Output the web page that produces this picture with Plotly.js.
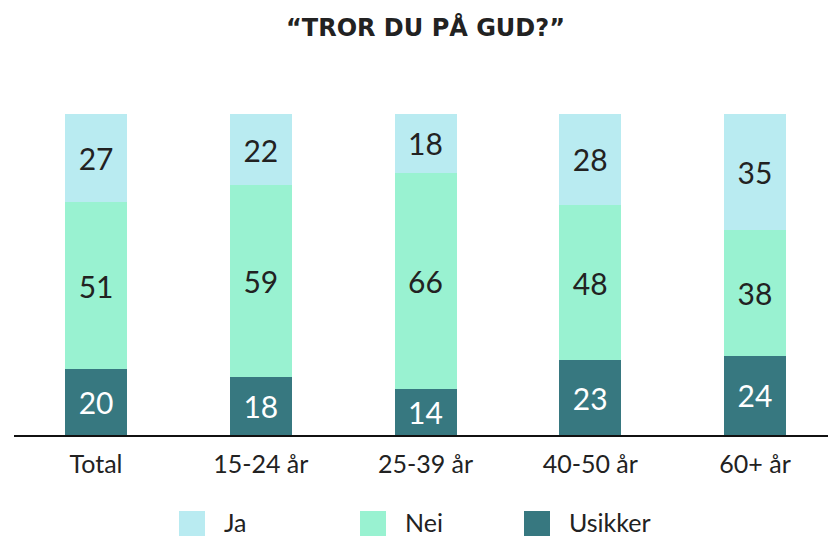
<!DOCTYPE html>
<html>
<head>
<meta charset="utf-8">
<script src="https://cdn.plot.ly/plotly-3.0.1.min.js"></script>
<style>html,body{margin:0;padding:0;background:#fff;}#chart{width:828px;height:536px;}</style>
</head>
<body>
<div id="chart"></div>
<script>
const categories = ["Total", "15-24 år", "25-39 år", "40-50 år", "60+ år"];
const usikker = [20, 18, 14, 23, 24];
const nei = [51, 59, 66, 48, 38];
const ja = [27, 22, 18, 28, 35];
const seriesNames = ["Usikker", "Nei", "Ja"];
const seriesColors = ["#377880", "#99f2d1", "#b9ebf1"];
const textColors = ["#ffffff", "#222222", "#222222"];
const seriesValues = [usikker, nei, ja];

const FONT = "Lato, 'Noto Sans', sans-serif";
const traces = seriesValues.map((vals, i) => ({
  type: "bar",
  name: seriesNames[i],
  x: categories,
  y: vals,
  text: vals.map(String),
  texttemplate: "%{text}",
  textposition: "inside",
  insidetextanchor: "middle",
  textangle: 0,
  textfont: {family: FONT, size: 30, color: textColors[i]},
  marker: {color: seriesColors[i], line: {width: 0}},
  hoverinfo: "skip",
  showlegend: false
}));

// legend drawn as swatches + labels (order Ja, Nei, Usikker)
const legendOrder = [2, 1, 0];
const legendX = [179, 360, 524];
const shapes = [];
const annotations = [];
legendOrder.forEach((si, k) => {
  shapes.push({type: "rect", xref: "paper", yref: "paper",
    x0: (legendX[k] - 14) / 814, x1: (legendX[k] + 26 - 14) / 814,
    y0: (435 - 537) / 321, y1: (435 - 511) / 321,
    fillcolor: seriesColors[si], line: {width: 0}});
  annotations.push({xref: "paper", yref: "paper",
    x: (legendX[k] + 44 - 14) / 814, y: (435 - 522) / 321,
    xanchor: "left", yanchor: "middle", showarrow: false, borderpad: 0,
    text: seriesNames[si], font: {family: FONT, size: 25, color: "#222222"}});
});
annotations.push({xref: "paper", yref: "paper", x: (425 - 14) / 814, y: (435 - 28) / 321,
  xanchor: "center", yanchor: "middle", showarrow: false,
  text: "<b>“TROR DU PÅ GUD?”</b>", font: {family: "'DejaVu Sans', sans-serif", size: 24, color: "#222222"}});

const layout = {
  width: 828, height: 536,
  margin: {l: 14, r: 0, t: 114, b: 101},
  paper_bgcolor: "#ffffff", plot_bgcolor: "#ffffff",
  barmode: "stack",
  barnorm: "percent",
  bargap: 0.624,
  showlegend: false,
  xaxis: {
    type: "category",
    range: [-0.498, 4.443],
    showline: true, linecolor: "#111111", linewidth: 2,
    showgrid: false, zeroline: false, ticks: "",
    ticklabelstandoff: 6,
    tickfont: {family: FONT, size: 25, color: "#222222"},
    fixedrange: true
  },
  yaxis: {
    range: [0, 100], visible: false, showgrid: false, zeroline: false, fixedrange: true
  },
  shapes: shapes,
  annotations: annotations,
  font: {family: FONT}
};

Plotly.newPlot("chart", traces, layout, {displayModeBar: false, staticPlot: true});
</script>
</body>
</html>
